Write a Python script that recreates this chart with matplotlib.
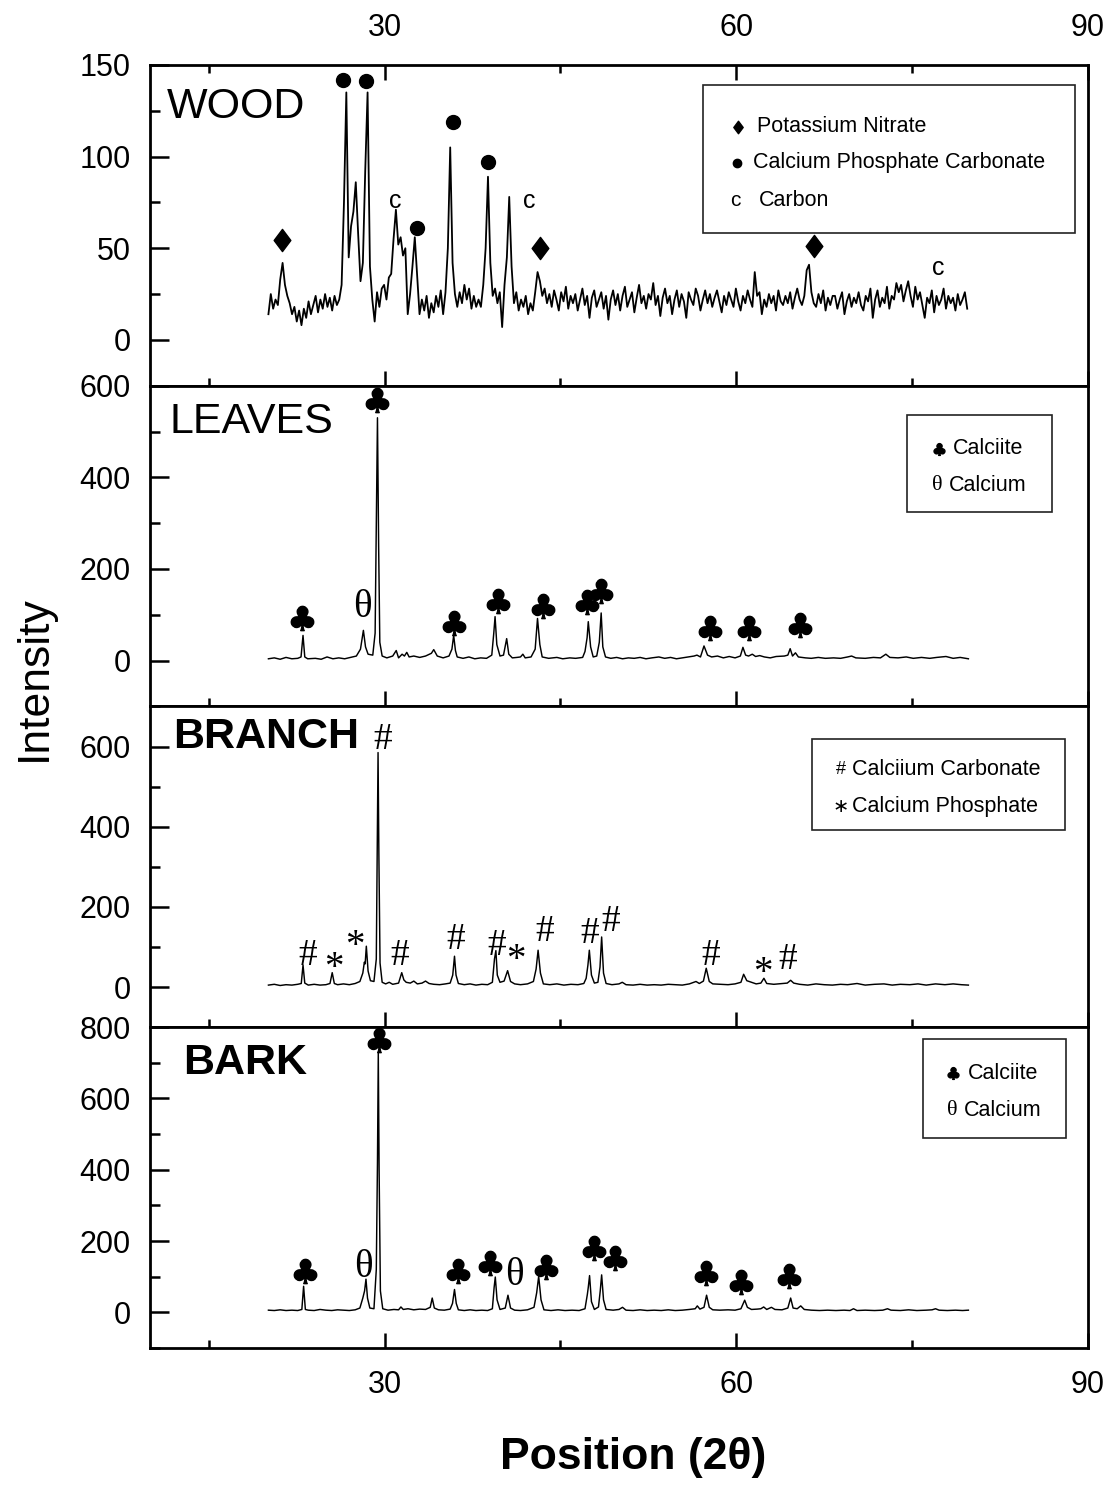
import numpy as np
import matplotlib
matplotlib.use('agg')
import matplotlib.pyplot as plt
from matplotlib.path import Path
from matplotlib.patches import Rectangle
from matplotlib.ticker import MultipleLocator

# ---------------- data ----------------
# WOOD: noisy scan, one value every ~0.2 degree from 20.1 to 79.7
wood_start, wood_end = 20.1, 79.7
wood_y = [
    14, 25, 17, 22, 19, 33, 42, 30, 24, 20,
    14, 18, 10, 16, 8, 17, 12, 21, 14, 19,
    24, 15, 22, 17, 25, 18, 23, 16, 24, 19,
    22, 30, 75, 135, 45, 62, 70, 86, 58, 32,
    42, 92, 135, 40, 22, 10, 26, 18, 28, 30,
    22, 34, 36, 55, 71, 52, 56, 46, 50, 14,
    25, 40, 56, 35, 14, 22, 16, 24, 12, 20,
    15, 24, 18, 27, 14, 26, 50, 105, 42, 25,
    18, 26, 20, 30, 22, 28, 17, 24, 18, 22,
    18, 30, 50, 89, 42, 24, 28, 20, 26, 7,
    30, 45, 78, 40, 20, 26, 16, 22, 18, 24,
    14, 20, 16, 26, 37, 32, 24, 28, 20, 25,
    18, 27, 22, 16, 26, 21, 29, 17, 24, 20,
    25, 16, 22, 28, 19, 24, 12, 23, 27, 18,
    22, 26, 17, 24, 11, 22, 27, 19, 25, 16,
    24, 29, 18, 22, 26, 15, 23, 30, 20, 24,
    17, 25, 22, 31, 19, 24, 13, 23, 28, 20,
    24, 14, 22, 27, 18, 25, 21, 12, 26, 22,
    19, 28, 24, 16, 22, 27, 20, 25, 18, 23,
    27, 21, 15, 24, 19, 26, 22, 18, 28, 21,
    16, 24, 20, 27, 22, 18, 37, 24, 26, 14,
    22, 18, 25, 20, 24, 16, 27, 21, 19, 24,
    20, 26, 17, 23, 28, 22, 19, 24, 38, 41,
    26, 20, 18, 25, 20, 27, 16, 23, 19, 24,
    24, 17, 22, 26, 14, 21, 25, 18, 23, 20,
    26, 19, 16, 24, 21, 28, 12, 22, 27, 18,
    23, 20, 29, 17, 24, 22, 31, 26, 30, 21,
    27, 32, 24, 18, 29, 22, 26, 19, 12, 23,
    20, 27, 15, 24, 19, 22, 28, 17, 24, 20,
    23, 16, 25, 19, 22, 26, 17,
]

leaves_pts = [
    (20.1, 4), (20.6, 6), (21.1, 3), (21.6, 7), (22.1, 4), (22.6, 5), (22.88, 8),
    (23.05, 55), (23.2, 8), (23.45, 4), (24.1, 5), (24.6, 3), (25.1, 8), (25.6, 4),
    (26.1, 6), (26.6, 4), (27.1, 7), (27.6, 10), (27.95, 25), (28.2, 66), (28.38, 30),
    (28.6, 14), (29.0, 12), (29.2, 60), (29.3, 300), (29.4, 530), (29.5, 250),
    (29.6, 40), (29.8, 10), (30.2, 6), (30.7, 10), (31.0, 22), (31.2, 6), (31.5, 14),
    (31.7, 10), (31.9, 18), (32.1, 8), (32.5, 10), (33.0, 7), (33.5, 10), (34.0, 16),
    (34.2, 24), (34.5, 10), (35.0, 6), (35.5, 10), (35.75, 25), (35.9, 55), (36.05, 22),
    (36.2, 8), (36.7, 5), (37.2, 8), (37.7, 4), (38.2, 6), (38.7, 5), (39.15, 12),
    (39.32, 60), (39.43, 96), (39.58, 35), (39.85, 10), (40.15, 12), (40.42, 48),
    (40.6, 14), (40.9, 6), (41.3, 7), (41.6, 8), (41.8, 14), (42.0, 6), (42.5, 8),
    (42.85, 25), (43.05, 92), (43.25, 35), (43.45, 8), (44.0, 5), (44.7, 7), (45.2, 4),
    (45.8, 6), (46.3, 5), (46.9, 7), (47.1, 20), (47.28, 50), (47.38, 85), (47.58, 30),
    (47.8, 8), (48.1, 10), (48.32, 40), (48.48, 104), (48.62, 30), (48.85, 8),
    (49.3, 5), (49.8, 7), (50.3, 4), (50.8, 6), (51.3, 5), (51.8, 7), (52.3, 4),
    (52.8, 6), (53.4, 8), (53.9, 5), (54.4, 7), (54.9, 4), (55.4, 6), (55.9, 8),
    (56.4, 10), (56.65, 12), (56.95, 8), (57.25, 32), (57.55, 12), (57.9, 8),
    (58.4, 10), (58.9, 6), (59.4, 9), (59.9, 6), (60.35, 10), (60.57, 29), (60.8, 12),
    (61.05, 10), (61.37, 14), (61.65, 9), (62.0, 11), (62.4, 8), (62.9, 6), (63.4, 9),
    (64.1, 10), (64.4, 12), (64.6, 26), (64.8, 10), (65.05, 17), (65.3, 8), (65.9, 6),
    (66.4, 5), (67.0, 7), (67.6, 5), (68.3, 6), (68.9, 5), (69.5, 8), (69.84, 10),
    (70.2, 6), (71.0, 5), (71.7, 7), (72.3, 6), (72.76, 14), (73.1, 7), (73.8, 6),
    (74.5, 8), (75.1, 5), (75.8, 7), (76.5, 5), (77.1, 7), (77.89, 9), (78.5, 5),
    (79.1, 7), (79.8, 4),
]

branch_pts = [
    (20.1, 5), (20.6, 7), (21.1, 4), (21.6, 6), (22.1, 5), (22.6, 7), (22.9, 9),
    (23.05, 55), (23.2, 10), (23.5, 5), (24.0, 7), (24.5, 5), (25.0, 6), (25.35, 9),
    (25.54, 36), (25.72, 9), (26.0, 6), (26.5, 8), (27.0, 6), (27.5, 9), (27.9, 14),
    (28.15, 35), (28.28, 62), (28.35, 58), (28.45, 102), (28.6, 40), (28.8, 16),
    (29.1, 14), (29.3, 70), (29.38, 330), (29.45, 585), (29.52, 330), (29.62, 60),
    (29.8, 12), (30.1, 8), (30.4, 12), (30.7, 7), (31.2, 10), (31.47, 36), (31.65, 18),
    (31.85, 12), (32.2, 10), (32.5, 15), (32.8, 8), (33.2, 10), (33.5, 15), (33.8, 9),
    (34.2, 7), (34.7, 6), (35.2, 8), (35.6, 10), (35.82, 30), (35.97, 77), (36.1, 30),
    (36.3, 9), (36.8, 6), (37.3, 8), (37.8, 5), (38.3, 7), (38.8, 6), (39.2, 12),
    (39.38, 70), (39.5, 91), (39.62, 30), (39.85, 12), (40.2, 15), (40.5, 41),
    (40.75, 14), (41.1, 8), (41.6, 6), (42.2, 8), (42.7, 14), (42.93, 45), (43.1, 92),
    (43.3, 35), (43.55, 8), (44.1, 6), (44.7, 8), (45.3, 5), (45.9, 7), (46.5, 6),
    (47.0, 9), (47.2, 22), (47.35, 55), (47.47, 92), (47.65, 30), (47.9, 10),
    (48.2, 12), (48.38, 50), (48.52, 125), (48.68, 35), (48.9, 9), (49.4, 6),
    (50.0, 8), (50.28, 12), (50.6, 6), (51.2, 5), (51.8, 7), (52.4, 5), (53.0, 6),
    (53.6, 5), (54.2, 7), (54.8, 6), (55.4, 5), (56.0, 8), (56.57, 14), (56.85, 9),
    (57.2, 15), (57.44, 47), (57.7, 14), (58.0, 8), (58.6, 7), (59.3, 6), (59.9, 8),
    (60.4, 12), (60.63, 32), (60.9, 16), (61.3, 12), (61.7, 8), (62.1, 10),
    (62.36, 22), (62.6, 9), (63.2, 7), (64.0, 9), (64.35, 10), (64.64, 17),
    (64.9, 10), (65.4, 7), (66.1, 5), (66.8, 8), (67.5, 6), (68.2, 5), (68.9, 7),
    (69.5, 6), (70.3, 9), (71.0, 5), (71.8, 7), (72.6, 8), (73.3, 5), (74.0, 7),
    (74.8, 6), (75.5, 8), (76.2, 5), (77.0, 8), (77.8, 6), (78.5, 8), (79.2, 6),
    (79.8, 5),
]

bark_pts = [
    (20.1, 6), (20.6, 5), (21.1, 7), (21.6, 5), (22.1, 6), (22.6, 5), (22.95, 8),
    (23.1, 73), (23.25, 8), (23.5, 6), (24.0, 5), (24.5, 8), (25.0, 6), (25.5, 5),
    (26.0, 7), (26.5, 6), (27.0, 5), (27.5, 7), (27.9, 12), (28.15, 40), (28.3, 60),
    (28.42, 93), (28.55, 40), (28.75, 12), (29.1, 10), (29.3, 120), (29.4, 420),
    (29.47, 730), (29.54, 400), (29.65, 60), (29.85, 10), (30.3, 6), (30.8, 8),
    (31.2, 7), (31.4, 15), (31.6, 8), (32.0, 10), (32.5, 7), (33.0, 9), (33.5, 8),
    (33.9, 14), (34.07, 40), (34.25, 12), (34.6, 7), (35.1, 6), (35.6, 9), (35.8, 25),
    (35.97, 64), (36.12, 25), (36.3, 7), (36.8, 5), (37.3, 7), (37.8, 5), (38.3, 6),
    (38.8, 5), (39.2, 10), (39.35, 70), (39.45, 99), (39.6, 35), (39.85, 8),
    (40.3, 12), (40.53, 48), (40.75, 12), (41.1, 6), (41.6, 5), (42.2, 7),
    (42.75, 14), (42.98, 55), (43.15, 101), (43.35, 35), (43.6, 7), (44.2, 5),
    (44.8, 7), (45.4, 5), (46.0, 6), (46.6, 5), (47.1, 10), (47.3, 50), (47.38, 70),
    (47.49, 103), (47.65, 30), (47.9, 8), (48.25, 15), (48.4, 60), (48.52, 105),
    (48.68, 35), (48.9, 8), (49.5, 6), (50.0, 8), (50.3, 14), (50.6, 6), (51.2, 5),
    (51.8, 7), (52.4, 5), (53.0, 6), (53.6, 5), (54.2, 7), (54.8, 5), (55.4, 6),
    (56.0, 8), (56.5, 10), (56.68, 18), (56.9, 9), (57.25, 14), (57.47, 48),
    (57.7, 14), (58.0, 7), (58.6, 6), (59.3, 7), (59.9, 6), (60.4, 10), (60.72, 34),
    (60.95, 14), (61.3, 8), (61.8, 9), (62.1, 10), (62.34, 15), (62.6, 8), (63.0, 14),
    (63.3, 8), (63.9, 7), (64.4, 12), (64.64, 40), (64.85, 12), (65.2, 10),
    (65.5, 18), (65.8, 8), (66.4, 6), (67.1, 5), (67.8, 6), (68.5, 5), (69.2, 6),
    (69.7, 5), (70.0, 10), (70.3, 5), (71.0, 6), (71.8, 5), (72.5, 6), (72.9, 10),
    (73.2, 6), (74.0, 5), (74.7, 7), (75.4, 5), (76.2, 6), (76.7, 7), (77.0, 10),
    (77.3, 6), (78.0, 5), (78.7, 6), (79.3, 5), (79.8, 6),
]

# peak labels (x, y) per symbol
wood_diamonds = [(21.3, 54.5), (43.3, 50), (66.6, 51)]
wood_dots = [(26.5, 142), (28.46, 141), (32.73, 61), (35.8, 119), (38.87, 97)]
wood_carbon = [(30.94, 76), (42.37, 76), (77.2, 39)]

leaves_clubs = [(23.0, 92), (29.4, 569), (35.9, 83), (39.64, 131), (43.48, 120),
                (47.3, 127), (48.5, 153), (57.8, 72), (61.06, 72), (65.4, 77)]
leaves_theta = [(28.12, 125)]

branch_hash = [(23.43, 87), (29.83, 625), (31.28, 87), (36.06, 125), (39.56, 112),
               (43.65, 145), (47.5, 142), (49.28, 172), (57.8, 87), (64.4, 75)]
branch_star = [(25.65, 67), (27.5, 122), (41.18, 87), (62.25, 55)]

bark_clubs = [(23.26, 115), (29.5, 763), (36.3, 115), (38.96, 138), (43.74, 127),
              (47.83, 180), (49.7, 152), (57.4, 110), (60.4, 85), (64.47, 101)]
bark_theta = [(28.2, 138), (41.1, 115)]

panel_names = ['WOOD', 'LEAVES', 'BRANCH', 'BARK']
panel_ylims = [(-25, 150), (-100, 600), (-100, 700), (-100, 800)]
panel_major = [50, 200, 200, 200]

# ---------------- drawing ----------------
plt.rcParams['font.family'] = ['Liberation Sans', 'DejaVu Sans']
SERIF = ['Liberation Serif', 'DejaVu Serif']

diamond = Path([(0, 1), (0.75, 0), (0, -1), (-0.75, 0), (0, 1)],
               [Path.MOVETO, Path.LINETO, Path.LINETO, Path.LINETO, Path.CLOSEPOLY])
club = r'$\clubsuit$'

fig = plt.figure(figsize=(11.12, 14.86), dpi=100)
axes = fig.subplots(4, 1, sharex=True)
fig.subplots_adjust(left=0.1349, right=0.9784, top=0.9563, bottom=0.0929, hspace=0)

wood_x = np.linspace(wood_start, wood_end, len(wood_y))
curves = [
    (wood_x, np.array(wood_y)),
    tuple(np.array(leaves_pts).T),
    tuple(np.array(branch_pts).T),
    tuple(np.array(bark_pts).T),
]

for i, ax in enumerate(axes):
    x, y = curves[i]
    ax.plot(x, y, color='black', lw=1.3 if i == 0 else 1.05)
    ax.set_xlim(10, 90)
    ax.set_ylim(*panel_ylims[i])
    ax.xaxis.set_major_locator(MultipleLocator(30))
    ax.xaxis.set_minor_locator(MultipleLocator(15))
    ax.yaxis.set_major_locator(MultipleLocator(panel_major[i]))
    ax.yaxis.set_minor_locator(MultipleLocator(panel_major[i] / 2))
    for s in ax.spines.values():
        s.set_linewidth(2)
    ax.tick_params(axis='y', which='both', direction='in', left=True, right=False,
                   width=1.8, labelsize=22, pad=14)
    ax.tick_params(axis='y', which='major', length=14)
    ax.tick_params(axis='y', which='minor', length=7)
    ax.tick_params(axis='x', which='both', direction='in', bottom=True,
                   top=(i == 0), width=1.8, labelsize=22,
                   labelbottom=(i == 3), labeltop=(i == 0), pad=(16 if i == 0 else 16))
    ax.tick_params(axis='x', which='major', length=11)
    ax.tick_params(axis='x', which='minor', length=6)

weights = ['normal', 'normal', 'bold', 'bold']
name_pos = [(0.018, 0.835), (0.0213, 0.853), (0.0245, 0.869), (0.035, 0.854)]
for ax, name, w, (px, py) in zip(axes, panel_names, weights, name_pos):
    ax.text(px, py, name, transform=ax.transAxes, fontsize=31, fontweight=w,
            ha='left', va='baseline')


def put_marker(ax, pts, marker, ms):
    xs, ys = zip(*pts)
    ax.plot(xs, ys, ls='none', marker=marker, ms=ms, color='black', clip_on=False)


def put_text(ax, pts, s, size, family, dy=0):
    for px, py in pts:
        ax.text(px, py + dy, s, fontsize=size, family=family, ha='center', va='center')


ax_w, ax_l, ax_br, ax_bk = axes
put_marker(ax_w, wood_diamonds, diamond, 16)
put_marker(ax_w, wood_dots, 'o', 10)
put_text(ax_w, wood_carbon, 'c', 18, ['Liberation Sans'])

put_marker(ax_l, leaves_clubs, club, 17.5)
put_text(ax_l, leaves_theta, 'θ', 28, SERIF, dy=-8)

put_text(ax_br, branch_hash, '#', 27, SERIF, dy=-8)
put_text(ax_br, branch_star, '*', 28, SERIF, dy=-20)

put_marker(ax_bk, bark_clubs, club, 17.5)
put_text(ax_bk, bark_theta, 'θ', 28, SERIF, dy=-12)


def legend_box(ax, box, rows):
    x0, y0, x1, y1 = box
    ax.add_patch(Rectangle((x0, y0), x1 - x0, y1 - y0, transform=ax.transAxes,
                           fill=False, lw=1.2, ec='#222222', zorder=5))
    for kind, sx, tx, ty, label in rows:
        if kind[0] == 'm':
            ax.plot([sx], [ty], ls='none', marker=kind[1], ms=kind[2], color='black',
                    transform=ax.transAxes, clip_on=False)
        else:
            ax.text(sx, ty, kind[1], fontsize=kind[2], family=kind[3],
                    transform=ax.transAxes, ha='center', va='center')
        ax.text(tx, ty, label, fontsize=15.5, transform=ax.transAxes,
                ha='left', va='center')


legend_box(ax_w, (0.5896, 0.4766, 0.9861, 0.9377), [
    (('m', diamond, 9), 0.627, 0.647, 0.807, 'Potassium Nitrate'),
    (('m', 'o', 6), 0.626, 0.643, 0.695, 'Calcium Phosphate Carbonate'),
    (('t', 'c', 15, ['Liberation Sans']), 0.624, 0.649, 0.576, 'Carbon'),
])
legend_box(ax_l, (0.807, 0.606, 0.9616, 0.909), [
    (('m', club, 8.5), 0.841, 0.856, 0.803, 'Calciite'),
    (('t', 'θ', 16, SERIF), 0.839, 0.852, 0.6875, 'Calcium'),
])
legend_box(ax_br, (0.7058, 0.6156, 0.9755, 0.90), [
    (('t', '#', 13, ['Liberation Sans']), 0.7367, 0.7484, 0.803, 'Calciium Carbonate'),
    (('t', '∗', 14, ['DejaVu Sans']), 0.7367, 0.7484, 0.6875, 'Calcium Phosphate'),
])
legend_box(ax_bk, (0.824, 0.655, 0.9765, 0.9627), [
    (('m', club, 8.5), 0.856, 0.872, 0.857, 'Calciite'),
    (('t', 'θ', 16, SERIF), 0.855, 0.868, 0.739, 'Calcium'),
])

fig.text(34 / 1112, 1 - 678 / 1486, 'Intensity', rotation=90, fontsize=32,
         ha='center', va='center')
fig.text(633 / 1112, 1 - 1458 / 1486, 'Position (2θ)', fontsize=32,
         fontweight='bold', ha='center', va='center')

fig.savefig('out.png', dpi=100)
